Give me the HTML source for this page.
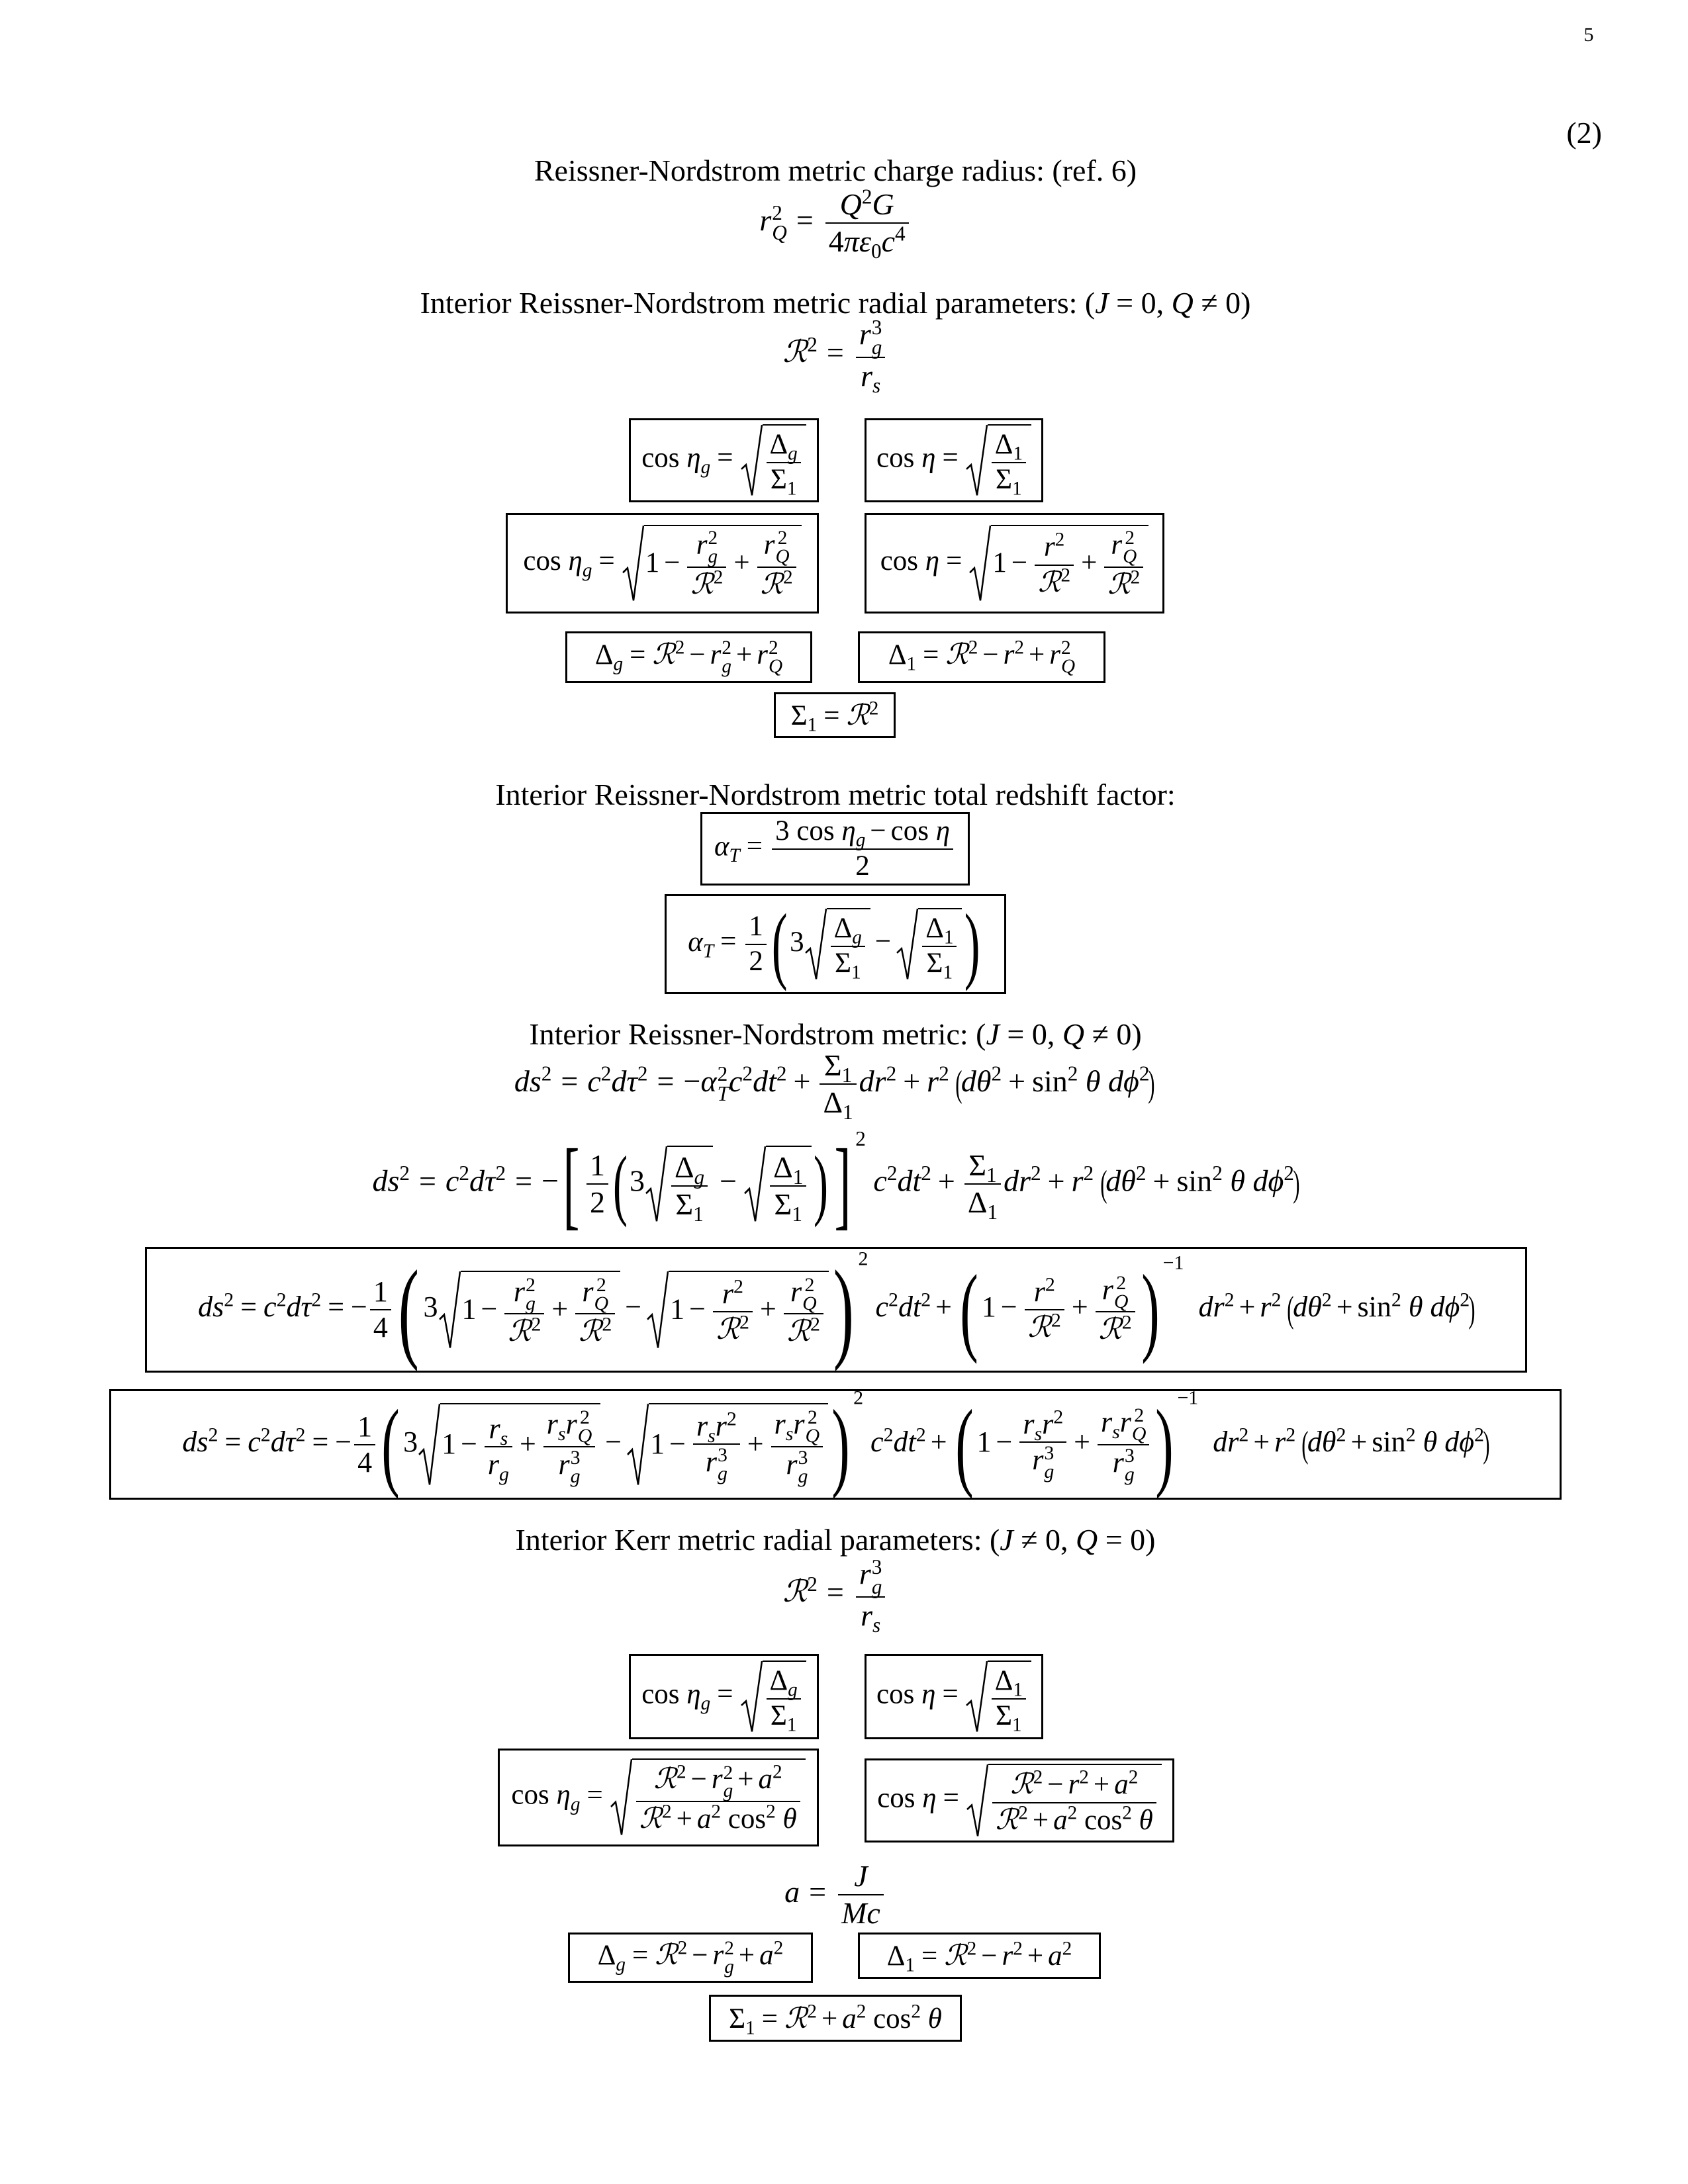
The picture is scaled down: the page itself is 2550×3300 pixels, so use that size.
<!DOCTYPE html>
<html><head><meta charset="utf-8">
<style>
body{margin:0;width:2550px;height:3300px;background:#fff;font-family:"Liberation Serif","DejaVu Serif",serif;font-size:46px;color:#000;position:relative;overflow:hidden}
.box{position:absolute;border:3px solid #000;display:flex;align-items:center;justify-content:center;box-sizing:border-box;white-space:nowrap;font-size:43px}
.box .o{margin:0 10px}
.box .p{margin:0 7px}
.eq{position:absolute;display:flex;align-items:center;justify-content:center;white-space:nowrap}
.w{display:inline-block;white-space:nowrap}
i{font-style:italic}
.f{display:inline-block;vertical-align:middle;margin:0 4px;text-align:center}
.f>span{display:block;padding:0 5px;line-height:1.18}
.f>span+span{border-top:2px solid #000}
.sq{display:inline-flex;align-items:stretch;vertical-align:middle}
.rad{position:relative;width:34px;flex:none}
.rad svg{position:absolute;left:0;top:0;width:100%;height:100%}
.sqc{border-top:2px solid #000;display:inline-block;padding:4px 4px 0 2px}
.ss{display:inline-flex;flex-direction:column;font-size:0.68em;line-height:0.95;vertical-align:0.5em;margin-left:1px}
sup,sub{font-size:0.68em;line-height:0}
.o{margin:0 14px}
.p{margin:0 10px}
.P{display:inline-block;font-weight:100;line-height:1;transform:scaleX(0.55);margin:0 -6px;vertical-align:middle}
.R{font-family:"DejaVu Serif",serif;font-style:italic}
</style></head><body>

<div class="eq" style="left:2350px;top:28px;width:100px;height:50px;font-size:30px">5</div>
<div class="eq" style="left:2300px;top:175px;width:120px;height:50px;justify-content:flex-end">(2)</div>

<div class="eq" style="left:262px;top:232px;width:2000px;height:50px">Reissner-Nordstrom metric charge radius: (ref. 6)</div>
<div class="eq" style="left:262px;top:282px;width:2000px;height:110px"><span class="w">
<i>r</i><span class="ss"><span>2</span><span><i>Q</i></span></span><span class="o">=</span><span class="f"><span><i>Q</i><sup>2</sup><i>G</i></span><span>4<i>πε</i><sub>0</sub><i>c</i><sup>4</sup></span></span></span></div>

<div class="eq" style="left:262px;top:432px;width:2000px;height:50px"><span class="w">Interior Reissner-Nordstrom metric radial parameters: (<i>J</i>&nbsp;=&nbsp;0,&nbsp;<i>Q</i>&nbsp;≠&nbsp;0)</span></div>
<div class="eq" style="left:262px;top:482px;width:2000px;height:110px"><span class="w">
<span class="R">ℛ</span><sup>2</sup><span class="o">=</span><span class="f"><span><i>r</i><span class="ss"><span>3</span><span><i>g</i></span></span></span><span><i>r</i><sub><i>s</i></sub></span></span></span></div>

<div class="box" style="left:950px;top:632px;width:287px;height:127px"><span class="w">cos&nbsp;<i>η</i><sub><i>g</i></sub><span class="o">=</span><span class="sq"><span class="rad"><svg viewBox="0 0 34 100" preserveAspectRatio="none"><path d="M2 62 L9 56 L18 98 L33 1" stroke="#000" stroke-width="2.5" fill="none"/></svg></span><span class="sqc"><span class="f"><span>Δ<sub><i>g</i></sub></span><span>Σ<sub>1</sub></span></span></span></span></span></div>
<div class="box" style="left:1306px;top:632px;width:270px;height:127px"><span class="w">cos&nbsp;<i>η</i><span class="o">=</span><span class="sq"><span class="rad"><svg viewBox="0 0 34 100" preserveAspectRatio="none"><path d="M2 62 L9 56 L18 98 L33 1" stroke="#000" stroke-width="2.5" fill="none"/></svg></span><span class="sqc"><span class="f"><span>Δ<sub>1</sub></span><span>Σ<sub>1</sub></span></span></span></span></span></div>

<div class="box" style="left:764px;top:775px;width:473px;height:152px"><span class="w">cos&nbsp;<i>η</i><sub><i>g</i></sub><span class="o">=</span><span class="sq"><span class="rad"><svg viewBox="0 0 34 100" preserveAspectRatio="none"><path d="M2 62 L9 56 L18 98 L33 1" stroke="#000" stroke-width="2.5" fill="none"/></svg></span><span class="sqc">1<span class="p">−</span><span class="f"><span><i>r</i><span class="ss"><span>2</span><span><i>g</i></span></span></span><span><span class="R">ℛ</span><sup>2</sup></span></span><span class="p">+</span><span class="f"><span><i>r</i><span class="ss"><span>2</span><span><i>Q</i></span></span></span><span><span class="R">ℛ</span><sup>2</sup></span></span></span></span></span></div>
<div class="box" style="left:1306px;top:775px;width:453px;height:152px"><span class="w">cos&nbsp;<i>η</i><span class="o">=</span><span class="sq"><span class="rad"><svg viewBox="0 0 34 100" preserveAspectRatio="none"><path d="M2 62 L9 56 L18 98 L33 1" stroke="#000" stroke-width="2.5" fill="none"/></svg></span><span class="sqc">1<span class="p">−</span><span class="f"><span><i>r</i><sup>2</sup></span><span><span class="R">ℛ</span><sup>2</sup></span></span><span class="p">+</span><span class="f"><span><i>r</i><span class="ss"><span>2</span><span><i>Q</i></span></span></span><span><span class="R">ℛ</span><sup>2</sup></span></span></span></span></span></div>

<div class="box" style="left:854px;top:954px;width:373px;height:78px"><span class="w">Δ<sub><i>g</i></sub><span class="o">=</span><span class="R">ℛ</span><sup>2</sup><span class="p">−</span><i>r</i><span class="ss"><span>2</span><span><i>g</i></span></span><span class="p">+</span><i>r</i><span class="ss"><span>2</span><span><i>Q</i></span></span></span></div>
<div class="box" style="left:1296px;top:954px;width:374px;height:78px"><span class="w">Δ<sub>1</sub><span class="o">=</span><span class="R">ℛ</span><sup>2</sup><span class="p">−</span><i>r</i><sup>2</sup><span class="p">+</span><i>r</i><span class="ss"><span>2</span><span><i>Q</i></span></span></span></div>
<div class="box" style="left:1169px;top:1046px;width:184px;height:69px"><span class="w">Σ<sub>1</sub><span class="o">=</span><span class="R">ℛ</span><sup>2</sup></span></div>

<div class="eq" style="left:262px;top:1175px;width:2000px;height:50px">Interior Reissner-Nordstrom metric total redshift factor:</div>
<div class="box" style="left:1058px;top:1227px;width:407px;height:111px"><span class="w"><i>α</i><sub><i>T</i></sub><span class="o">=</span><span class="f"><span>3&nbsp;cos&nbsp;<i>η</i><sub><i>g</i></sub><span class="p">−</span>cos&nbsp;<i>η</i></span><span>2</span></span></span></div>
<div class="box" style="left:1004px;top:1351px;width:516px;height:151px"><span class="w"><i>α</i><sub><i>T</i></sub><span class="o">=</span><span class="f"><span>1</span><span>2</span></span><span class="P" style="font-size:130px">(</span>3<span class="sq"><span class="rad"><svg viewBox="0 0 34 100" preserveAspectRatio="none"><path d="M2 62 L9 56 L18 98 L33 1" stroke="#000" stroke-width="2.5" fill="none"/></svg></span><span class="sqc"><span class="f"><span>Δ<sub><i>g</i></sub></span><span>Σ<sub>1</sub></span></span></span></span><span class="p">−</span><span class="sq"><span class="rad"><svg viewBox="0 0 34 100" preserveAspectRatio="none"><path d="M2 62 L9 56 L18 98 L33 1" stroke="#000" stroke-width="2.5" fill="none"/></svg></span><span class="sqc"><span class="f"><span>Δ<sub>1</sub></span><span>Σ<sub>1</sub></span></span></span></span><span class="P" style="font-size:130px">)</span></span></div>

<div class="eq" style="left:262px;top:1537px;width:2000px;height:50px"><span class="w">Interior Reissner-Nordstrom metric: (<i>J</i>&nbsp;=&nbsp;0,&nbsp;<i>Q</i>&nbsp;≠&nbsp;0)</span></div>
<div class="eq" style="left:260px;top:1583px;width:2000px;height:110px"><span class="w">
<i>ds</i><sup>2</sup><span class="o">=</span><i>c</i><sup>2</sup><i>dτ</i><sup>2</sup><span class="o">=</span>−<i>α</i><span class="ss"><span>2</span><span><i>T</i></span></span><i>c</i><sup>2</sup><i>dt</i><sup>2</sup><span class="p">+</span><span class="f"><span>Σ<sub>1</sub></span><span>Δ<sub>1</sub></span></span><i>dr</i><sup>2</sup><span class="p">+</span><i>r</i><sup>2</sup>&nbsp;<span class="P" style="font-size:56px">(</span><i>dθ</i><sup>2</sup><span class="p">+</span>sin<sup>2</sup>&nbsp;<i>θ</i>&nbsp;<i>dϕ</i><sup>2</sup><span class="P" style="font-size:56px">)</span></span></div>

<div class="eq" style="left:542px;top:1709px;width:1440px;height:160px"><span class="w">
<i>ds</i><sup>2</sup><span class="o">=</span><i>c</i><sup>2</sup><i>dτ</i><sup>2</sup><span class="o">=</span>−<span class="P" style="font-size:150px;transform:scaleX(0.5)">[</span><span class="f"><span>1</span><span>2</span></span><span class="P" style="font-size:120px">(</span>3<span class="sq"><span class="rad"><svg viewBox="0 0 34 100" preserveAspectRatio="none"><path d="M2 62 L9 56 L18 98 L33 1" stroke="#000" stroke-width="2.5" fill="none"/></svg></span><span class="sqc"><span class="f"><span>Δ<sub><i>g</i></sub></span><span>Σ<sub>1</sub></span></span></span></span><span class="p">−</span><span class="sq"><span class="rad"><svg viewBox="0 0 34 100" preserveAspectRatio="none"><path d="M2 62 L9 56 L18 98 L33 1" stroke="#000" stroke-width="2.5" fill="none"/></svg></span><span class="sqc"><span class="f"><span>Δ<sub>1</sub></span><span>Σ<sub>1</sub></span></span></span></span><span class="P" style="font-size:120px">)</span><span class="P" style="font-size:150px;transform:scaleX(0.5)">]</span><sup style="vertical-align:2.2em">2</sup>&nbsp;<i>c</i><sup>2</sup><i>dt</i><sup>2</sup><span class="p">+</span><span class="f"><span>Σ<sub>1</sub></span><span>Δ<sub>1</sub></span></span><i>dr</i><sup>2</sup><span class="p">+</span><i>r</i><sup>2</sup>&nbsp;<span class="P" style="font-size:56px">(</span><i>dθ</i><sup>2</sup><span class="p">+</span>sin<sup>2</sup>&nbsp;<i>θ</i>&nbsp;<i>dϕ</i><sup>2</sup><span class="P" style="font-size:56px">)</span></span></div>

<div class="box" style="left:219px;top:1884px;width:2088px;height:190px;font-size:44px"><span class="w">
<i>ds</i><sup>2</sup><span class="o">=</span><i>c</i><sup>2</sup><i>dτ</i><sup>2</sup><span class="o">=</span>−<span class="f"><span>1</span><span>4</span></span><span class="P" style="font-size:170px">(</span>3<span class="sq"><span class="rad"><svg viewBox="0 0 34 100" preserveAspectRatio="none"><path d="M2 62 L9 56 L18 98 L33 1" stroke="#000" stroke-width="2.5" fill="none"/></svg></span><span class="sqc">1<span class="p">−</span><span class="f"><span><i>r</i><span class="ss"><span>2</span><span><i>g</i></span></span></span><span><span class="R">ℛ</span><sup>2</sup></span></span><span class="p">+</span><span class="f"><span><i>r</i><span class="ss"><span>2</span><span><i>Q</i></span></span></span><span><span class="R">ℛ</span><sup>2</sup></span></span></span></span><span class="p">−</span><span class="sq"><span class="rad"><svg viewBox="0 0 34 100" preserveAspectRatio="none"><path d="M2 62 L9 56 L18 98 L33 1" stroke="#000" stroke-width="2.5" fill="none"/></svg></span><span class="sqc">1<span class="p">−</span><span class="f"><span><i>r</i><sup>2</sup></span><span><span class="R">ℛ</span><sup>2</sup></span></span><span class="p">+</span><span class="f"><span><i>r</i><span class="ss"><span>2</span><span><i>Q</i></span></span></span><span><span class="R">ℛ</span><sup>2</sup></span></span></span></span><span class="P" style="font-size:170px">)</span><sup style="vertical-align:2.6em">2</sup>&nbsp;<i>c</i><sup>2</sup><i>dt</i><sup>2</sup><span class="p">+</span><span class="P" style="font-size:150px">(</span>1<span class="p">−</span><span class="f"><span><i>r</i><sup>2</sup></span><span><span class="R">ℛ</span><sup>2</sup></span></span><span class="p">+</span><span class="f"><span><i>r</i><span class="ss"><span>2</span><span><i>Q</i></span></span></span><span><span class="R">ℛ</span><sup>2</sup></span></span><span class="P" style="font-size:150px">)</span><sup style="vertical-align:2.4em">−1</sup>&nbsp;&nbsp;<i>dr</i><sup>2</sup><span class="p">+</span><i>r</i><sup>2</sup>&nbsp;<span class="P" style="font-size:56px">(</span><i>dθ</i><sup>2</sup><span class="p">+</span>sin<sup>2</sup>&nbsp;<i>θ</i>&nbsp;<i>dϕ</i><sup>2</sup><span class="P" style="font-size:56px">)</span></span></div>

<div class="box" style="left:165px;top:2099px;width:2194px;height:167px;font-size:44px"><span class="w">
<i>ds</i><sup>2</sup><span class="o">=</span><i>c</i><sup>2</sup><i>dτ</i><sup>2</sup><span class="o">=</span>−<span class="f"><span>1</span><span>4</span></span><span class="P" style="font-size:150px">(</span>3<span class="sq"><span class="rad"><svg viewBox="0 0 34 100" preserveAspectRatio="none"><path d="M2 62 L9 56 L18 98 L33 1" stroke="#000" stroke-width="2.5" fill="none"/></svg></span><span class="sqc">1<span class="p">−</span><span class="f"><span><i>r</i><sub><i>s</i></sub></span><span><i>r</i><sub><i>g</i></sub></span></span><span class="p">+</span><span class="f"><span><i>r</i><sub><i>s</i></sub><i>r</i><span class="ss"><span>2</span><span><i>Q</i></span></span></span><span><i>r</i><span class="ss"><span>3</span><span><i>g</i></span></span></span></span></span></span><span class="p">−</span><span class="sq"><span class="rad"><svg viewBox="0 0 34 100" preserveAspectRatio="none"><path d="M2 62 L9 56 L18 98 L33 1" stroke="#000" stroke-width="2.5" fill="none"/></svg></span><span class="sqc">1<span class="p">−</span><span class="f"><span><i>r</i><sub><i>s</i></sub><i>r</i><sup>2</sup></span><span><i>r</i><span class="ss"><span>3</span><span><i>g</i></span></span></span></span><span class="p">+</span><span class="f"><span><i>r</i><sub><i>s</i></sub><i>r</i><span class="ss"><span>2</span><span><i>Q</i></span></span></span><span><i>r</i><span class="ss"><span>3</span><span><i>g</i></span></span></span></span></span></span><span class="P" style="font-size:150px">)</span><sup style="vertical-align:2.4em">2</sup>&nbsp;<i>c</i><sup>2</sup><i>dt</i><sup>2</sup><span class="p">+</span><span class="P" style="font-size:150px">(</span>1<span class="p">−</span><span class="f"><span><i>r</i><sub><i>s</i></sub><i>r</i><sup>2</sup></span><span><i>r</i><span class="ss"><span>3</span><span><i>g</i></span></span></span></span><span class="p">+</span><span class="f"><span><i>r</i><sub><i>s</i></sub><i>r</i><span class="ss"><span>2</span><span><i>Q</i></span></span></span><span><i>r</i><span class="ss"><span>3</span><span><i>g</i></span></span></span></span><span class="P" style="font-size:150px">)</span><sup style="vertical-align:2.4em">−1</sup>&nbsp;&nbsp;<i>dr</i><sup>2</sup><span class="p">+</span><i>r</i><sup>2</sup>&nbsp;<span class="P" style="font-size:56px">(</span><i>dθ</i><sup>2</sup><span class="p">+</span>sin<sup>2</sup>&nbsp;<i>θ</i>&nbsp;<i>dϕ</i><sup>2</sup><span class="P" style="font-size:56px">)</span></span></div>

<div class="eq" style="left:262px;top:2301px;width:2000px;height:50px"><span class="w">Interior Kerr metric radial parameters: (<i>J</i>&nbsp;≠&nbsp;0,&nbsp;<i>Q</i>&nbsp;=&nbsp;0)</span></div>
<div class="eq" style="left:262px;top:2355px;width:2000px;height:110px"><span class="w">
<span class="R">ℛ</span><sup>2</sup><span class="o">=</span><span class="f"><span><i>r</i><span class="ss"><span>3</span><span><i>g</i></span></span></span><span><i>r</i><sub><i>s</i></sub></span></span></span></div>

<div class="box" style="left:950px;top:2499px;width:287px;height:129px"><span class="w">cos&nbsp;<i>η</i><sub><i>g</i></sub><span class="o">=</span><span class="sq"><span class="rad"><svg viewBox="0 0 34 100" preserveAspectRatio="none"><path d="M2 62 L9 56 L18 98 L33 1" stroke="#000" stroke-width="2.5" fill="none"/></svg></span><span class="sqc"><span class="f"><span>Δ<sub><i>g</i></sub></span><span>Σ<sub>1</sub></span></span></span></span></span></div>
<div class="box" style="left:1306px;top:2499px;width:270px;height:129px"><span class="w">cos&nbsp;<i>η</i><span class="o">=</span><span class="sq"><span class="rad"><svg viewBox="0 0 34 100" preserveAspectRatio="none"><path d="M2 62 L9 56 L18 98 L33 1" stroke="#000" stroke-width="2.5" fill="none"/></svg></span><span class="sqc"><span class="f"><span>Δ<sub>1</sub></span><span>Σ<sub>1</sub></span></span></span></span></span></div>

<div class="box" style="left:752px;top:2642px;width:485px;height:148px"><span class="w">cos&nbsp;<i>η</i><sub><i>g</i></sub><span class="o">=</span><span class="sq"><span class="rad"><svg viewBox="0 0 34 100" preserveAspectRatio="none"><path d="M2 62 L9 56 L18 98 L33 1" stroke="#000" stroke-width="2.5" fill="none"/></svg></span><span class="sqc"><span class="f"><span><span class="R">ℛ</span><sup>2</sup><span class="p">−</span><i>r</i><span class="ss"><span>2</span><span><i>g</i></span></span><span class="p">+</span><i>a</i><sup>2</sup></span><span><span class="R">ℛ</span><sup>2</sup><span class="p">+</span><i>a</i><sup>2</sup>&nbsp;cos<sup>2</sup>&nbsp;<i>θ</i></span></span></span></span></span></div>
<div class="box" style="left:1306px;top:2657px;width:468px;height:127px"><span class="w">cos&nbsp;<i>η</i><span class="o">=</span><span class="sq"><span class="rad"><svg viewBox="0 0 34 100" preserveAspectRatio="none"><path d="M2 62 L9 56 L18 98 L33 1" stroke="#000" stroke-width="2.5" fill="none"/></svg></span><span class="sqc"><span class="f"><span><span class="R">ℛ</span><sup>2</sup><span class="p">−</span><i>r</i><sup>2</sup><span class="p">+</span><i>a</i><sup>2</sup></span><span><span class="R">ℛ</span><sup>2</sup><span class="p">+</span><i>a</i><sup>2</sup>&nbsp;cos<sup>2</sup>&nbsp;<i>θ</i></span></span></span></span></span></div>

<div class="eq" style="left:262px;top:2810px;width:2000px;height:106px"><span class="w">
<i>a</i><span class="o">=</span><span class="f"><span><i>J</i></span><span><i>Mc</i></span></span></span></div>

<div class="box" style="left:858px;top:2920px;width:370px;height:76px"><span class="w">Δ<sub><i>g</i></sub><span class="o">=</span><span class="R">ℛ</span><sup>2</sup><span class="p">−</span><i>r</i><span class="ss"><span>2</span><span><i>g</i></span></span><span class="p">+</span><i>a</i><sup>2</sup></span></div>
<div class="box" style="left:1296px;top:2920px;width:367px;height:70px"><span class="w">Δ<sub>1</sub><span class="o">=</span><span class="R">ℛ</span><sup>2</sup><span class="p">−</span><i>r</i><sup>2</sup><span class="p">+</span><i>a</i><sup>2</sup></span></div>
<div class="box" style="left:1071px;top:3014px;width:382px;height:71px"><span class="w">Σ<sub>1</sub><span class="o">=</span><span class="R">ℛ</span><sup>2</sup><span class="p">+</span><i>a</i><sup>2</sup>&nbsp;cos<sup>2</sup>&nbsp;<i>θ</i></span></div>

</body></html>
